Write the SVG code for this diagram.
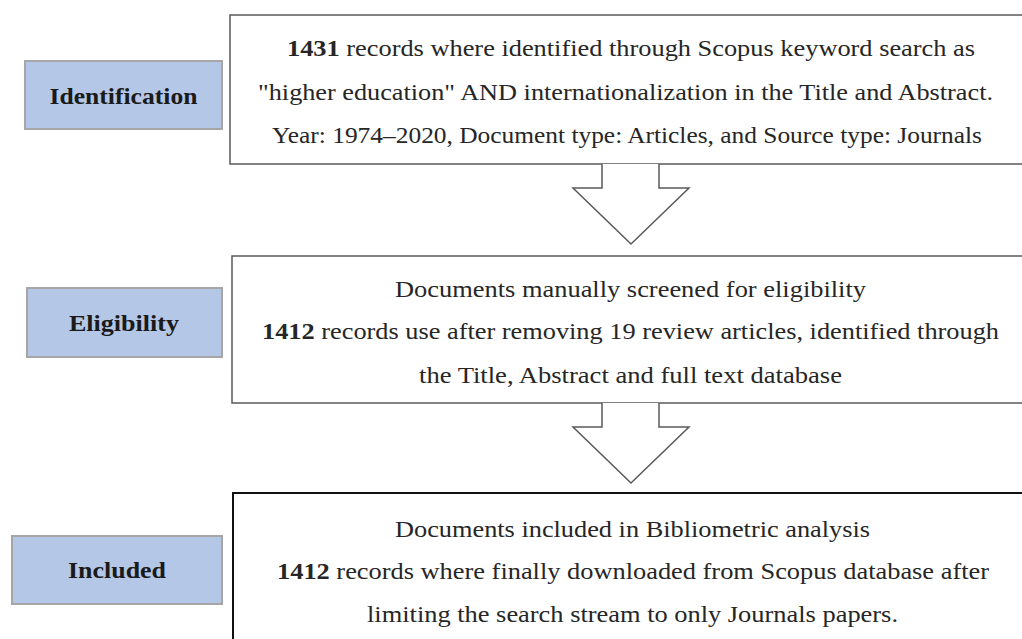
<svg xmlns="http://www.w3.org/2000/svg" width="1022" height="639" viewBox="0 0 1022 639">
<style>
.lbl rect{fill:#b4c7e7;stroke:#a6a6a6;stroke-width:2}
.lbl text{font-family:"Liberation Serif",serif;font-weight:bold;font-size:23px;fill:#1a1a1a;text-anchor:middle}
.box rect{fill:#fff;stroke:#595959;stroke-width:1.5}
.box text{font-family:"Liberation Serif",serif;font-size:24px;fill:#262626}
.box tspan.b{font-weight:bold}
.arrow .fill{fill:#fff;stroke:none}
.arrow .edge{fill:none;stroke:#595959;stroke-width:1.5;stroke-linejoin:miter}
</style>
<rect width="1022" height="639" fill="#fff"/>

<g id="identification" class="lbl">
<rect x="25" y="61" width="197" height="68"/>
<text x="123.5" y="104" textLength="148" lengthAdjust="spacingAndGlyphs">Identification</text>
</g>
<g id="eligibility" class="lbl">
<rect x="27" y="288" width="195" height="69"/>
<text x="124" y="331" textLength="110" lengthAdjust="spacingAndGlyphs">Eligibility</text>
</g>
<g id="included" class="lbl">
<rect x="12" y="536" width="210" height="68"/>
<text x="117" y="578" textLength="98" lengthAdjust="spacingAndGlyphs">Included</text>
</g>

<g id="box1" class="box">
<rect x="230" y="15" width="820" height="149"/>
<text x="287" y="56" textLength="688" lengthAdjust="spacingAndGlyphs"><tspan class="b">1431</tspan> records where identified through Scopus keyword search as</text>
<text x="258" y="100" textLength="735" lengthAdjust="spacingAndGlyphs">"higher education" AND internationalization in the Title and Abstract.</text>
<text x="272" y="143" textLength="710" lengthAdjust="spacingAndGlyphs">Year: 1974–2020, Document type: Articles, and Source type: Journals</text>
</g>

<g id="box2" class="box">
<rect x="232" y="256" width="820" height="147"/>
<text x="395" y="297" textLength="471" lengthAdjust="spacingAndGlyphs">Documents manually screened for eligibility</text>
<text x="262" y="339" textLength="737" lengthAdjust="spacingAndGlyphs"><tspan class="b">1412</tspan> records use after removing 19 review articles, identified through</text>
<text x="419" y="383" textLength="423" lengthAdjust="spacingAndGlyphs">the Title, Abstract and full text database</text>
</g>

<g id="box3" class="box">
<rect x="233" y="493" width="820" height="200" style="stroke:#111;stroke-width:2"/>
<text x="395" y="537" textLength="475" lengthAdjust="spacingAndGlyphs">Documents included in Bibliometric analysis</text>
<text x="277" y="579" textLength="712" lengthAdjust="spacingAndGlyphs"><tspan class="b">1412</tspan> records where finally downloaded from Scopus database after</text>
<text x="367" y="622" textLength="531" lengthAdjust="spacingAndGlyphs">limiting the search stream to only Journals papers.</text>
</g>

<g id="connectors">
<g class="arrow">
<polygon class="fill" points="602,164 659,164 659,188 689,188 631,244 573,188 602,188"/>
<polyline class="edge" points="602,164 602,188 573,188 631,244 689,188 659,188 659,164"/>
</g>
<g class="arrow">
<polygon class="fill" points="602,403 659,403 659,427 689,427 631,483 573,427 602,427"/>
<polyline class="edge" points="602,403 602,427 573,427 631,483 689,427 659,427 659,403"/>
</g>
</g>
</svg>
